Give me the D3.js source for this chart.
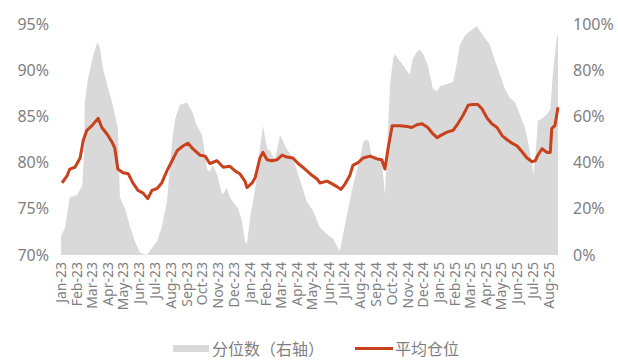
<!DOCTYPE html>
<html>
<head>
<meta charset="utf-8">
<script src="https://cdn.jsdelivr.net/npm/d3@7"></script>
<style>
  body { margin: 0; background: #fff; }
  svg text { font-family: "Noto Sans", "Noto Sans CJK SC", sans-serif; fill: #7f7f7f; }
</style>
</head>
<body>
<svg width="618" height="360"></svg>
<script>
// 分位数（右轴）, %
const quantDates = ["2023-01-01","2023-01-09","2023-01-18","2023-02-01","2023-02-11","2023-02-15","2023-02-16","2023-02-22","2023-03-04","2023-03-12","2023-03-17","2023-03-23","2023-03-31","2023-04-10","2023-04-15","2023-04-21","2023-04-25","2023-05-05","2023-05-15","2023-05-24","2023-06-03","2023-06-16","2023-06-26","2023-07-06","2023-07-15","2023-07-25","2023-08-04","2023-08-10","2023-08-19","2023-09-02","2023-09-12","2023-09-21","2023-10-01","2023-10-11","2023-10-16","2023-10-22","2023-10-30","2023-11-09","2023-11-18","2023-11-24","2023-11-30","2023-12-10","2023-12-17","2023-12-23","2023-12-27","2024-01-02","2024-01-12","2024-01-21","2024-01-27","2024-02-04","2024-02-10","2024-02-19","2024-02-29","2024-03-06","2024-03-13","2024-03-25","2024-04-08","2024-04-21","2024-05-03","2024-05-16","2024-05-30","2024-06-11","2024-06-20","2024-06-24","2024-06-30","2024-07-10","2024-07-19","2024-07-27","2024-08-02","2024-08-08","2024-08-15","2024-08-19","2024-08-25","2024-09-04","2024-09-13","2024-09-15","2024-09-19","2024-09-23","2024-09-29","2024-10-05","2024-10-08","2024-10-18","2024-10-28","2024-11-06","2024-11-12","2024-11-20","2024-11-26","2024-12-02","2024-12-11","2024-12-21","2024-12-29","2025-01-04","2025-01-17","2025-01-29","2025-02-06","2025-02-11","2025-02-21","2025-03-03","2025-03-16","2025-03-28","2025-04-10","2025-04-20","2025-04-30","2025-05-09","2025-05-19","2025-05-29","2025-06-07","2025-06-17","2025-06-23","2025-07-01","2025-07-03","2025-07-07","2025-07-12","2025-07-20","2025-07-30","2025-08-05","2025-08-10","2025-08-18","2025-08-20"]
const quantValues = [8,12,25,26,30,45,66,76,86,92,90,81,74,66,61,55,25,20,12,6,1,0,3,6,12,23,49,59,65,66,62,56,52,37,36,39,35,26,29,25,23,20,15,6,5,16,29,46,56,46,45,41,52,49,46,42,32,23,19,12,9,7,3,2,9,20,30,37,42,49,50,49,42,42,41,36,26,45,74,85,87,84,81,78,85,88,89,87,82,72,71,73,74,75,84,91,95,97,99,95,91,84,78,72,68,66,61,55,49,39,35,42,58,59,61,63,78,95,95]

// 平均仓位, %
const posDates = ["2023-01-03","2023-01-13","2023-01-18","2023-01-28","2023-02-07","2023-02-13","2023-02-20","2023-03-02","2023-03-14","2023-03-21","2023-03-31","2023-04-10","2023-04-15","2023-04-21","2023-05-01","2023-05-11","2023-05-20","2023-05-30","2023-06-09","2023-06-18","2023-06-26","2023-07-06","2023-07-15","2023-07-25","2023-08-04","2023-08-14","2023-08-25","2023-09-04","2023-09-13","2023-09-27","2023-10-07","2023-10-16","2023-10-30","2023-11-11","2023-11-24","2023-12-04","2023-12-13","2023-12-23","2023-12-27","2024-01-06","2024-01-12","2024-01-21","2024-01-27","2024-02-04","2024-02-13","2024-02-23","2024-03-04","2024-03-13","2024-03-25","2024-04-04","2024-04-13","2024-04-27","2024-05-11","2024-05-16","2024-05-30","2024-06-09","2024-06-18","2024-06-26","2024-07-04","2024-07-13","2024-07-19","2024-07-29","2024-08-08","2024-08-21","2024-09-04","2024-09-13","2024-09-19","2024-09-25","2024-10-03","2024-10-18","2024-11-01","2024-11-10","2024-11-20","2024-11-30","2024-12-11","2024-12-21","2024-12-29","2025-01-07","2025-01-17","2025-01-29","2025-02-07","2025-02-17","2025-02-27","2025-03-08","2025-03-18","2025-03-26","2025-04-05","2025-04-14","2025-04-24","2025-05-04","2025-05-13","2025-05-23","2025-06-02","2025-06-11","2025-06-21","2025-07-01","2025-07-07","2025-07-12","2025-07-20","2025-07-30","2025-08-05","2025-08-08","2025-08-14","2025-08-20"]
const posValues = [77.8,78.6,79.3,79.5,80.5,82.4,83.5,84.0,84.8,83.8,83.1,82.2,81.6,79.3,78.9,78.8,77.8,77.0,76.7,76.1,77.0,77.2,77.8,79.1,80.2,81.3,81.8,82.1,81.5,80.8,80.7,79.9,80.2,79.5,79.6,79.1,78.8,78.0,77.3,77.8,78.4,80.5,81.1,80.3,80.2,80.3,80.8,80.6,80.5,79.9,79.5,78.8,78.2,77.8,78.0,77.7,77.4,77.1,77.7,78.6,79.7,80.0,80.5,80.7,80.4,80.3,79.3,81.5,84.0,84.0,83.9,83.8,84.1,84.2,83.8,83.1,82.7,83.0,83.3,83.5,84.2,85.1,86.2,86.3,86.3,85.8,84.8,84.2,83.8,82.9,82.5,82.1,81.8,81.2,80.5,80.1,80.2,80.8,81.5,81.1,81.1,83.7,84.0,86.0]

const leftTicks = [70, 75, 80, 85, 90, 95]
const rightTicks = [0, 20, 40, 60, 80, 100]
const legendNames = ["分位数（右轴）", "平均仓位"]

const parse = d3.timeParse("%Y-%m-%d")
const quant = quantDates.map((d, i) => ({date: parse(d), v: quantValues[i]}))
const pos = posDates.map((d, i) => ({date: parse(d), v: posValues[i]}))

const svg = d3.select("svg")

const x = d3.scaleTime()
  .domain([parse("2023-01-01"), parse("2025-08-20")])
  .range([61, 558])
const yL = d3.scaleLinear().domain([70, 95]).range([255, 24])
const yR = d3.scaleLinear().domain([0, 100]).range([255, 24])

// 灰色面积
svg.append("path")
  .datum(quant)
  .attr("fill", "#d9d9d9")
  .attr("d", d3.area().x(d => x(d.date)).y0(yR(0)).y1(d => yR(d.v)))

// 平均仓位折线
svg.append("path")
  .datum(pos)
  .attr("fill", "none")
  .attr("stroke", "#c8401c")
  .attr("stroke-width", 3)
  .attr("stroke-linejoin", "round")
  .attr("d", d3.line().x(d => x(d.date)).y(d => yL(d.v)))

// 左轴
svg.append("g")
  .attr("transform", "translate(58,0)")
  .call(d3.axisLeft(yL).tickValues(leftTicks).tickSize(0).tickPadding(9).tickFormat(d => d + "%"))
  .call(g => g.select(".domain").remove())
  .call(g => g.selectAll("text").attr("font-size", 16).attr("fill", "#7f7f7f").style("font-family", "Noto Sans"))

// 右轴
svg.append("g")
  .attr("transform", "translate(565,0)")
  .call(d3.axisRight(yR).tickValues(rightTicks).tickSize(0).tickPadding(8).tickFormat(d => d + "%"))
  .call(g => g.select(".domain").remove())
  .call(g => g.selectAll("text").attr("font-size", 16).attr("fill", "#7f7f7f").style("font-family", "Noto Sans"))

// x 轴（月份，竖排）
const months = d3.timeMonth.range(parse("2023-01-01"), parse("2025-08-02"))
svg.append("g")
  .attr("transform", "translate(0,256)")
  .call(d3.axisBottom(x).tickValues(months).tickSize(0).tickFormat(d3.timeFormat("%b-%y")))
  .call(g => g.select(".domain").remove())
  .call(g => g.selectAll("text")
    .attr("font-size", 14)
    .attr("fill", "#7f7f7f")
    .style("font-family", "Noto Sans")
    .attr("text-anchor", "end")
    .attr("transform", "rotate(-90)")
    .attr("x", -6)
    .attr("y", 0)
    .attr("dy", "0.35em"))

// 图例
const legend = svg.append("g")
legend.append("rect").attr("x", 173).attr("y", 345).attr("width", 36).attr("height", 7).attr("fill", "#d9d9d9")
legend.append("text").attr("x", 212).attr("y", 349).attr("dy", "0.35em")
  .attr("font-size", 16).style("font-family", "Noto Sans CJK SC").attr("fill", "#7f7f7f")
  .text(legendNames[0])
legend.append("line").attr("x1", 355).attr("x2", 393).attr("y1", 348.5).attr("y2", 348.5)
  .attr("stroke", "#c8401c").attr("stroke-width", 3)
legend.append("text").attr("x", 395).attr("y", 349).attr("dy", "0.35em")
  .attr("font-size", 16).style("font-family", "Noto Sans CJK SC").attr("fill", "#7f7f7f")
  .text(legendNames[1])
</script>
</body>
</html>
